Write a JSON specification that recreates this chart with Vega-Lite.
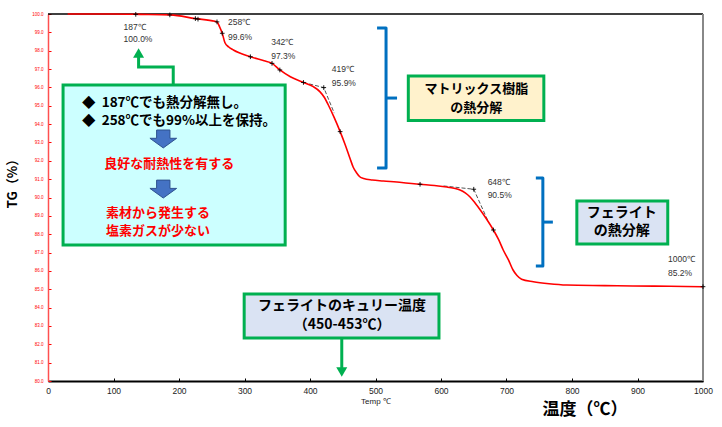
{
  "$schema": "https://vega.github.io/schema/vega-lite/v6.json",
  "width": 655,
  "height": 367,
  "autosize": {"type": "none"},
  "padding": {"left": 48, "top": 14, "right": 19, "bottom": 46},
  "background": "white",
  "config": {"view": {"stroke": null}, "font": "Noto Sans CJK JP"},
  "encoding": {
    "x": {
      "field": "t", "type": "quantitative",
      "scale": {"domain": [0, 1000], "nice": false, "zero": false},
      "axis": {
        "title": "Temp ℃", "titleFontSize": 8, "titleFontWeight": "normal", "titleColor": "#222",
        "titleY": 20, "titleBaseline": "middle", "titleFont": "Liberation Sans",
        "values": [0,100,200,300,400,500,600,700,800,900,1000], "format": "d",
        "labelFontSize": 8.5, "labelColor": "#222", "labelFont": "Liberation Sans",
        "labelPadding": 8, "tickSize": -3, "tickColor": "#000",
        "domainColor": "#000", "domainWidth": 2, "grid": false, "labelFlush": false
      }
    },
    "y": {
      "field": "v", "type": "quantitative",
      "scale": {"domain": [80, 100], "nice": false, "zero": false},
      "axis": {
        "title": "TG（%）", "titleFontSize": 13, "titleFontWeight": "bold", "titleColor": "#000",
        "titleX": -29, "titleY": 166, "titleBaseline": "bottom", "titleAngle": -90, "titleAlign": "center",
        "values": [80,81,82,83,84,85,86,87,88,89,90,91,92,93,94,95,96,97,98,99,100],
        "format": ".1f", "labelFontSize": 4.5, "labelColor": "#ff0000", "labelFont": "Liberation Sans",
        "labelPadding": 8, "tickSize": -3, "tickColor": "#ff0000",
        "domainColor": "#ff5050", "domainWidth": 1.5, "grid": false
      }
    }
  },
  "layer": [
    {
      "data": {"values": [{"t": 0, "t2": 1000, "v": 100}]},
      "mark": {"type": "rule", "color": "#000", "strokeWidth": 1.5},
      "encoding": {"x2": {"field": "t2"}}
    },
    {
      "data": {"values": [{"t": 1000, "v": 80, "v2": 100}]},
      "mark": {"type": "rule", "color": "#888", "strokeWidth": 2},
      "encoding": {"y2": {"field": "v2"}}
    },
    {
      "data": {"values": [
        {"t": 23.0, "t2": 362.1, "v": 96.13, "v2": 87.41, "id": "A"},
        {"t": 550.1, "t2": 757.0, "v": 96.62, "v2": 94.19, "id": "B"},
        {"t": 807.4, "t2": 946.2, "v": 89.81, "v2": 87.47, "id": "C"},
        {"t": 299.5, "t2": 596.9, "v": 84.74, "v2": 82.34, "id": "D"}
      ]},
      "mark": {"type": "rect", "stroke": "#00b050", "strokeWidth": 3, "opacity": 1},
      "encoding": {
        "x2": {"field": "t2"}, "y2": {"field": "v2"},
        "fill": {"field": "id", "type": "nominal", "legend": null,
          "scale": {"domain": ["A","B","C","D"], "range": ["#ccffff", "#fff2cc", "#dae3f3", "#dae3f3"]}}
      }
    },
    {
      "data": {"values": [
        {"g": "d1", "o": 1, "t": 390, "v": 96.27},
        {"g": "d1", "o": 2, "t": 421, "v": 95.99},
        {"g": "d1", "o": 3, "t": 437, "v": 94.6},
        {"g": "d2", "o": 1, "t": 604, "v": 90.63},
        {"g": "d2", "o": 2, "t": 650, "v": 90.45},
        {"g": "d2", "o": 3, "t": 672, "v": 88.7}
      ]},
      "mark": {"type": "line", "color": "#555", "strokeWidth": 1, "strokeDash": [4, 2]},
      "encoding": {"detail": {"field": "g"}, "order": {"field": "o"}}
    },
    {
      "data": {"values": [
        {"t": 30, "v": 100.0}, {"t": 100, "v": 100.0}, {"t": 141, "v": 99.98}, {"t": 187, "v": 99.95},
        {"t": 225, "v": 99.75}, {"t": 255, "v": 99.6}, {"t": 258, "v": 99.57}, {"t": 262, "v": 99.3},
        {"t": 266, "v": 98.95}, {"t": 270, "v": 98.45}, {"t": 276, "v": 98.2}, {"t": 283, "v": 98.04},
        {"t": 309, "v": 97.67}, {"t": 330, "v": 97.45}, {"t": 342, "v": 97.31}, {"t": 354, "v": 96.95},
        {"t": 370, "v": 96.58}, {"t": 390, "v": 96.27}, {"t": 405, "v": 96.04}, {"t": 415, "v": 95.77},
        {"t": 422, "v": 95.45}, {"t": 428, "v": 95.04}, {"t": 437, "v": 94.35}, {"t": 446, "v": 93.59},
        {"t": 454, "v": 92.85}, {"t": 461, "v": 92.14}, {"t": 466, "v": 91.65}, {"t": 471, "v": 91.35},
        {"t": 476, "v": 91.13}, {"t": 482, "v": 91.03}, {"t": 495, "v": 90.95}, {"t": 512, "v": 90.9},
        {"t": 540, "v": 90.82}, {"t": 568, "v": 90.72}, {"t": 590, "v": 90.65}, {"t": 609, "v": 90.57},
        {"t": 620, "v": 90.5}, {"t": 629, "v": 90.41}, {"t": 637, "v": 90.25}, {"t": 644, "v": 90.04},
        {"t": 652, "v": 89.7}, {"t": 660, "v": 89.32}, {"t": 670, "v": 88.8}, {"t": 680, "v": 88.23},
        {"t": 688, "v": 87.7}, {"t": 695, "v": 87.14}, {"t": 703, "v": 86.6}, {"t": 710, "v": 86.05},
        {"t": 716, "v": 85.75}, {"t": 723, "v": 85.55}, {"t": 741, "v": 85.41}, {"t": 765, "v": 85.3},
        {"t": 792, "v": 85.23}, {"t": 850, "v": 85.2}, {"t": 893, "v": 85.18}, {"t": 950, "v": 85.16},
        {"t": 1000, "v": 85.14}
      ]},
      "mark": {"type": "line", "color": "#ff0000", "strokeWidth": 1.6, "interpolate": "monotone"},
      "encoding": {}
    },
    {
      "data": {"values": [
        {"t": 134, "v": 99.98}, {"t": 186, "v": 99.95}, {"t": 225, "v": 99.75}, {"t": 229, "v": 99.72},
        {"t": 258, "v": 99.57}, {"t": 266, "v": 98.95}, {"t": 309, "v": 97.67}, {"t": 342, "v": 97.31},
        {"t": 354, "v": 96.95}, {"t": 390, "v": 96.27}, {"t": 421, "v": 95.99}, {"t": 446, "v": 93.59},
        {"t": 568, "v": 90.72}, {"t": 650, "v": 90.45}, {"t": 680, "v": 88.23}, {"t": 1000, "v": 85.14}
      ]},
      "mark": {"type": "point", "shape": "M-1,0L1,0M0,-1L0,1", "size": 22, "filled": false, "stroke": "#000", "strokeWidth": 0.9, "opacity": 1},
      "encoding": {}
    },
    {
      "data": {"values": [
        {"t": 115.4, "v": 99.31, "s": "187℃"}, {"t": 115.4, "v": 98.62, "s": "100.0%"},
        {"t": 274.7, "v": 99.55, "s": "258℃"}, {"t": 274.7, "v": 98.76, "s": "99.6%"},
        {"t": 340.7, "v": 98.49, "s": "342℃"}, {"t": 340.7, "v": 97.73, "s": "97.3%"},
        {"t": 433.3, "v": 97.0, "s": "419℃"}, {"t": 433.3, "v": 96.22, "s": "95.9%"},
        {"t": 671.2, "v": 90.83, "s": "648℃"}, {"t": 671.2, "v": 90.14, "s": "90.5%"},
        {"t": 946.6, "v": 86.63, "s": "1000℃"}, {"t": 946.6, "v": 85.87, "s": "85.2%"}
      ]},
      "mark": {"type": "text", "align": "left", "baseline": "middle", "fontSize": 8.5, "color": "#333", "font": "Liberation Sans"},
      "encoding": {"text": {"field": "s"}}
    },
    {
      "data": {"values": [
        {"g": "b1", "o": 1, "t": 502.4, "v": 99.24}, {"g": "b1", "o": 2, "t": 516.1, "v": 99.24},
        {"g": "b1", "o": 3, "t": 516.1, "v": 91.61}, {"g": "b1", "o": 4, "t": 502.4, "v": 91.61},
        {"g": "b1m", "o": 1, "t": 516.1, "v": 95.42}, {"g": "b1m", "o": 2, "t": 532.9, "v": 95.42},
        {"g": "b2", "o": 1, "t": 744.8, "v": 91.06}, {"g": "b2", "o": 2, "t": 755.5, "v": 91.06},
        {"g": "b2", "o": 3, "t": 755.5, "v": 86.27}, {"g": "b2", "o": 4, "t": 744.8, "v": 86.27},
        {"g": "b2m", "o": 1, "t": 755.5, "v": 88.66}, {"g": "b2m", "o": 2, "t": 770.8, "v": 88.66}
      ]},
      "mark": {"type": "line", "color": "#0070c0", "strokeWidth": 3, "strokeJoin": "round"},
      "encoding": {"detail": {"field": "g"}, "order": {"field": "o"}}
    },
    {
      "data": {"values": [
        {"g": "c1", "o": 1, "t": 138.3, "v": 97.66}, {"g": "c1", "o": 2, "t": 138.3, "v": 97.11},
        {"g": "c1", "o": 3, "t": 191.2, "v": 97.11}, {"g": "c1", "o": 4, "t": 191.2, "v": 96.13},
        {"g": "c2", "o": 1, "t": 448.5, "v": 82.34}, {"g": "c2", "o": 2, "t": 448.5, "v": 80.71}
      ]},
      "mark": {"type": "line", "color": "#00b050", "strokeWidth": 3},
      "encoding": {"detail": {"field": "g"}, "order": {"field": "o"}}
    },
    {
      "data": {"values": [
        {"t": 138.3, "v": 97.87, "d": "up"},
        {"t": 448.5, "v": 80.49, "d": "down"}
      ]},
      "mark": {"type": "point", "filled": true, "size": 121, "color": "#00b050", "opacity": 1},
      "encoding": {"shape": {"field": "d", "type": "nominal", "legend": null,
        "scale": {"domain": ["up", "down"], "range": ["triangle-up", "triangle-down"]}}}
    },
    {
      "data": {"values": [{"t": 176, "v": 93.19}, {"t": 176, "v": 90.46}]},
      "mark": {"type": "point", "shape": "M-0.5,-0.67L0.5,-0.67L0.5,-0.05L1,-0.05L0,0.67L-1,-0.05L-0.5,-0.05Z",
        "size": 713, "filled": true, "fill": "#4472c4", "stroke": "#2f528f", "strokeWidth": 1, "opacity": 1},
      "encoding": {}
    },
    {
      "data": {"values": [
        {"t": 52.0, "v": 95.16, "s": "◆\u00a0\u00a0187℃でも熱分解無し。"},
        {"t": 52.0, "v": 94.17, "s": "◆\u00a0\u00a0258℃でも99%以上を保持。"}
      ]},
      "mark": {"type": "text", "align": "left", "baseline": "middle", "fontSize": 13.5, "fontWeight": "bold", "color": "#000"},
      "encoding": {"text": {"field": "s"}}
    },
    {
      "data": {"values": [
        {"t": 185, "v": 91.83, "s": "良好な耐熱性を有する"},
        {"t": 168, "v": 89.15, "s": "素材から発生する"},
        {"t": 168, "v": 88.16, "s": "塩素ガスが少ない"}
      ]},
      "mark": {"type": "text", "align": "center", "baseline": "middle", "fontSize": 13, "fontWeight": "bold", "color": "#ff0000"},
      "encoding": {"text": {"field": "s"}}
    },
    {
      "data": {"values": [
        {"t": 654, "v": 95.9, "s": "マトリックス樹脂"},
        {"t": 654, "v": 94.9, "s": "の熱分解"}
      ]},
      "mark": {"type": "text", "align": "center", "baseline": "middle", "fontSize": 13, "fontWeight": "bold", "color": "#000"},
      "encoding": {"text": {"field": "s"}}
    },
    {
      "data": {"values": [
        {"t": 876, "v": 89.17, "s": "フェライト"},
        {"t": 876, "v": 88.17, "s": "の熱分解"},
        {"t": 449, "v": 84.06, "s": "フェライトのキュリー温度"},
        {"t": 449, "v": 83.03, "s": "（450-453℃）"}
      ]},
      "mark": {"type": "text", "align": "center", "baseline": "middle", "fontSize": 14, "fontWeight": "bold", "color": "#000"},
      "encoding": {"text": {"field": "s"}}
    },
    {
      "data": {"values": [{"t": 820, "v": 78.42, "s": "温度（℃）"}]},
      "mark": {"type": "text", "align": "center", "baseline": "middle", "fontSize": 17, "fontWeight": "bold", "color": "#000"},
      "encoding": {"text": {"field": "s"}}
    }
  ]
}
